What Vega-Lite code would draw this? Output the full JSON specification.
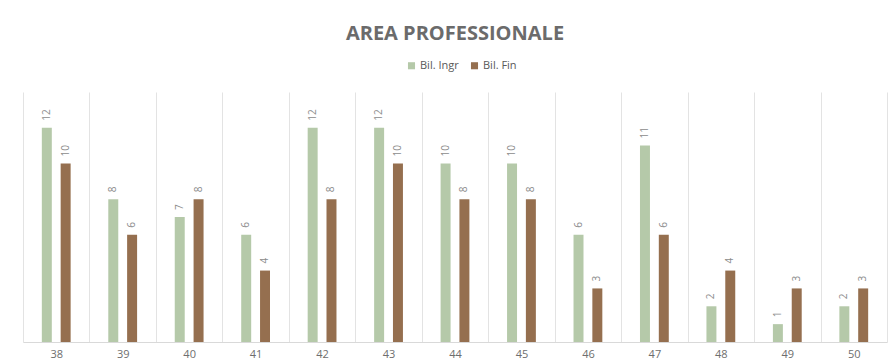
{
  "$schema": "https://vega.github.io/schema/vega-lite/v6.json",
  "autosize": {"type": "none"},
  "width": 864,
  "height": 250,
  "padding": {"left": 23, "top": 92, "right": 5, "bottom": 22},
  "background": "white",
  "title": {
    "text": "AREA PROFESSIONALE",
    "fontSize": 20,
    "font": "Open Sans",
    "fontWeight": "bold",
    "color": "#6b6b6b",
    "anchor": "middle",
    "offset": 16
  },
  "data": {
    "values": [
      {"cat": "38", "series": "Bil. Ingr", "value": 12},
      {"cat": "38", "series": "Bil. Fin", "value": 10},
      {"cat": "39", "series": "Bil. Ingr", "value": 8},
      {"cat": "39", "series": "Bil. Fin", "value": 6},
      {"cat": "40", "series": "Bil. Ingr", "value": 7},
      {"cat": "40", "series": "Bil. Fin", "value": 8},
      {"cat": "41", "series": "Bil. Ingr", "value": 6},
      {"cat": "41", "series": "Bil. Fin", "value": 4},
      {"cat": "42", "series": "Bil. Ingr", "value": 12},
      {"cat": "42", "series": "Bil. Fin", "value": 8},
      {"cat": "43", "series": "Bil. Ingr", "value": 12},
      {"cat": "43", "series": "Bil. Fin", "value": 10},
      {"cat": "44", "series": "Bil. Ingr", "value": 10},
      {"cat": "44", "series": "Bil. Fin", "value": 8},
      {"cat": "45", "series": "Bil. Ingr", "value": 10},
      {"cat": "45", "series": "Bil. Fin", "value": 8},
      {"cat": "46", "series": "Bil. Ingr", "value": 6},
      {"cat": "46", "series": "Bil. Fin", "value": 3},
      {"cat": "47", "series": "Bil. Ingr", "value": 11},
      {"cat": "47", "series": "Bil. Fin", "value": 6},
      {"cat": "48", "series": "Bil. Ingr", "value": 2},
      {"cat": "48", "series": "Bil. Fin", "value": 4},
      {"cat": "49", "series": "Bil. Ingr", "value": 1},
      {"cat": "49", "series": "Bil. Fin", "value": 3},
      {"cat": "50", "series": "Bil. Ingr", "value": 2},
      {"cat": "50", "series": "Bil. Fin", "value": 3}
    ]
  },
  "encoding": {
    "x": {
      "field": "cat",
      "type": "nominal",
      "sort": null,
      "scale": {"paddingInner": 0, "paddingOuter": 0},
      "axis": {
        "title": null,
        "labelAngle": 0,
        "labelFont": "Open Sans",
        "labelFontSize": 11,
        "labelColor": "#6e6e6e",
        "labelPadding": 6,
        "ticks": false,
        "grid": true,
        "tickBand": "extent",
        "gridColor": "#e3e3e3",
        "domainColor": "#d9d9d9"
      }
    },
    "xOffset": {
      "field": "series",
      "type": "nominal",
      "sort": ["Bil. Ingr", "Bil. Fin"],
      "scale": {"paddingInner": 0.47, "paddingOuter": 1.19}
    },
    "y": {
      "field": "value",
      "type": "quantitative",
      "scale": {"domain": [0, 14]},
      "axis": null
    }
  },
  "layer": [
    {
      "mark": {"type": "bar"},
      "encoding": {
        "color": {
          "field": "series",
          "type": "nominal",
          "sort": ["Bil. Ingr", "Bil. Fin"],
          "scale": {"domain": ["Bil. Ingr", "Bil. Fin"], "range": ["#b5c9a9", "#956f4f"]},
          "legend": {
            "title": null,
            "orient": "none",
            "legendX": 383,
            "legendY": -32,
            "direction": "horizontal",
            "symbolType": "square",
            "symbolSize": 50,
            "symbolStrokeWidth": 0,
            "labelFont": "Open Sans",
            "labelFontSize": 11,
            "labelColor": "#595959",
            "columnPadding": 10,
            "labelOffset": 3
          }
        }
      }
    },
    {
      "mark": {
        "type": "text",
        "angle": 270,
        "align": "left",
        "baseline": "middle",
        "dx": 7,
        "font": "Open Sans",
        "fontSize": 10,
        "color": "#8c8c8c"
      },
      "encoding": {
        "text": {"field": "value", "type": "quantitative"}
      }
    }
  ],
  "config": {
    "view": {"stroke": null}
  }
}
